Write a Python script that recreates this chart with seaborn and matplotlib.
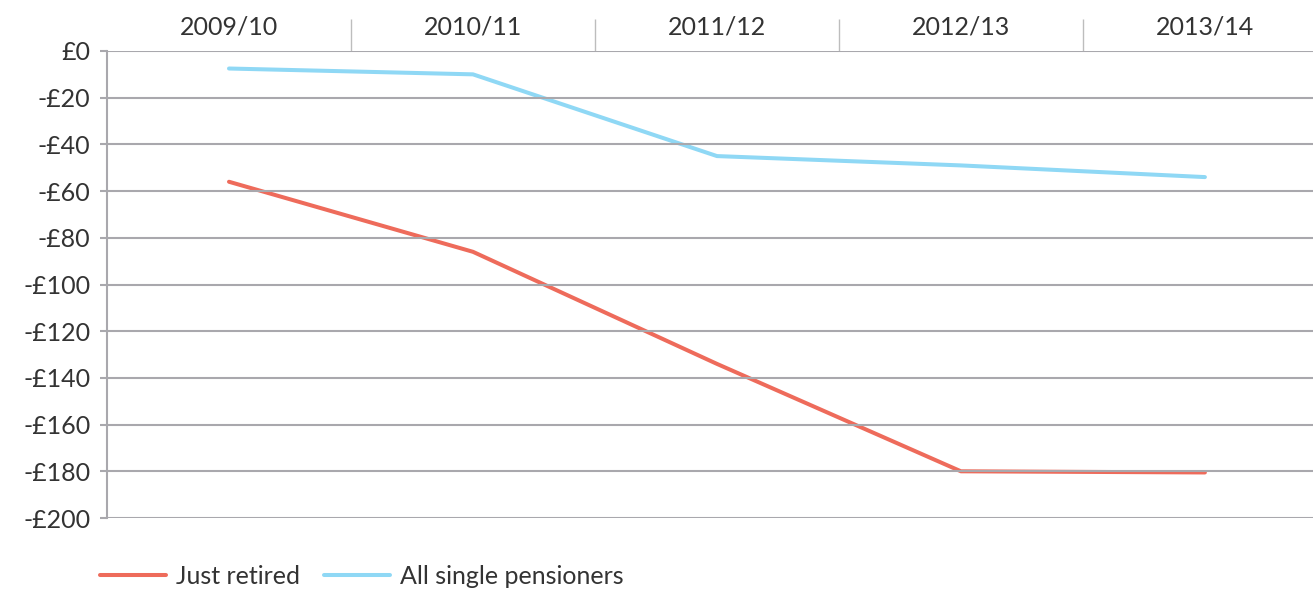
import matplotlib
matplotlib.use("Agg")
import matplotlib.pyplot as plt
import pandas as pd
import seaborn as sns

years = ["2009/10", "2010/11", "2011/12", "2012/13", "2013/14"]
just_retired = [-56, -86, -134, -180, -180.5]
all_single = [-7.5, -10, -45, -49, -54]
series_names = ["Just retired", "All single pensioners"]
yticks = list(range(0, -201, -20))

df = pd.DataFrame({
    "year": years * 2,
    "change": just_retired + all_single,
    "group": [series_names[0]] * len(years) + [series_names[1]] * len(years),
})

sns.set_theme(style="white")
plt.rcParams["font.family"] = ["Lato", "DejaVu Sans"]

text_col = "#333333"
grid_col = "#a9a8ad"
palette = {series_names[0]: "#ee6b5b", series_names[1]: "#8fd8f5"}
fs = 18

fig = plt.figure(figsize=(13.13, 5.9), dpi=100)
ax = fig.add_axes([107 / 1313, 1 - 518 / 590, 1 - 107 / 1313, (518 - 51) / 590])

sns.lineplot(data=df, x="year", y="change", hue="group", palette=palette,
             linewidth=2.9, sort=False, ax=ax, legend=False)

ax.set_xlim(-0.5, 4.443)
ax.set_ylim(-200, 0)

# gridlines drawn over the data lines
ax.set_axisbelow(False)
ax.yaxis.grid(True, color=grid_col, linewidth=1.5)
ax.xaxis.grid(False)

ax.set_yticks(yticks)
ax.set_yticklabels(["£0" if v == 0 else f"-£{abs(v)}" for v in yticks],
                   fontsize=fs, color=text_col, fontweight="normal")
ax.tick_params(axis="y", length=5, width=1.5, color=grid_col, pad=7, left=True)

# category labels on top, separator ticks between categories
ax.xaxis.tick_top()
ax.set_xticks(range(len(years)))
ax.set_xticklabels(years, fontsize=fs, color=text_col, fontweight="normal")
ax.set_xticks([i + 0.5 for i in range(len(years) - 1)], minor=True)
ax.tick_params(axis="x", which="major", length=0, pad=9)
ax.tick_params(axis="x", which="minor", length=23, width=1.0, color="#bdbdbd", top=True, bottom=False)
ax.set_xlabel("")
ax.set_ylabel("")

for side in ["top", "right", "bottom"]:
    ax.spines[side].set_visible(False)
ax.spines["left"].set_color(grid_col)
ax.spines["left"].set_linewidth(1.5)

handles = [plt.Line2D([], [], color=palette[n], linewidth=2.9) for n in series_names]
fig.legend(handles, series_names, loc="center left", bbox_to_anchor=(0.076, 1 - 576 / 590),
           ncol=2, frameon=False, handlelength=2.65, handletextpad=0.4,
           columnspacing=0.95, borderpad=0, borderaxespad=0,
           prop={"size": fs, "weight": "normal"}, labelcolor=text_col)

ax.set_facecolor("white")
fig.savefig("out.png", dpi=100, facecolor="white")
